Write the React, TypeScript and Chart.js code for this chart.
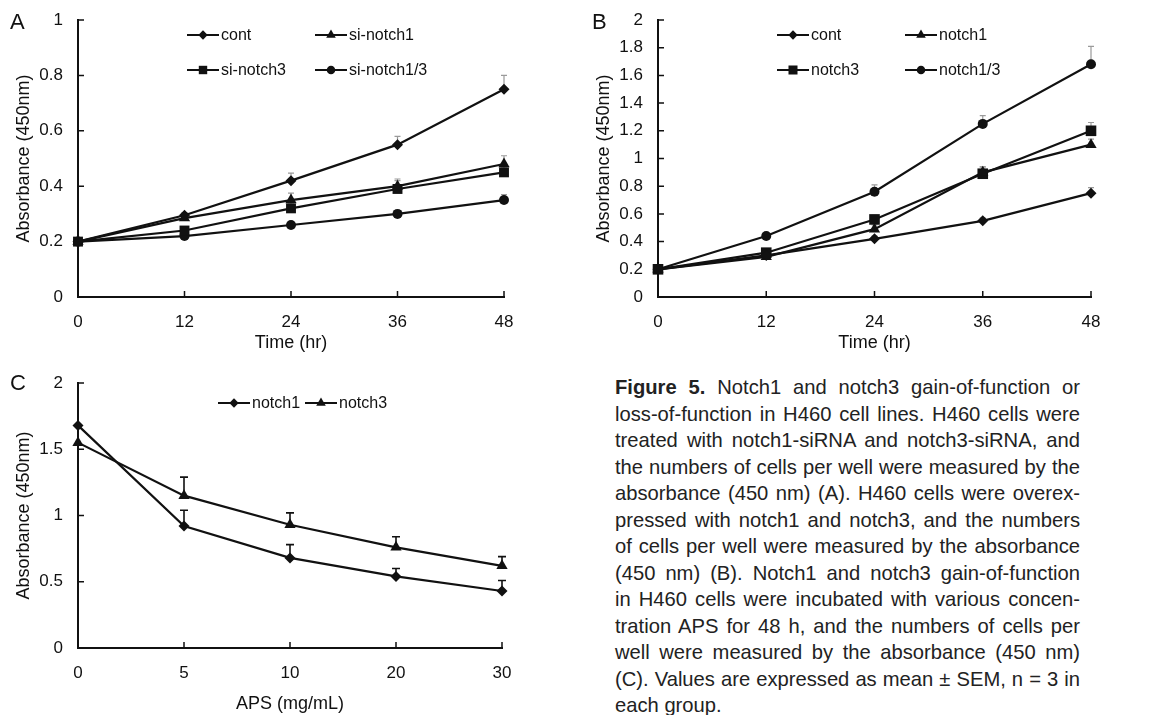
import React, { useEffect, useRef } from 'react';
import { Chart, registerables } from 'chart.js';

Chart.register(...registerables);

// ---------- data ----------
const timeHours = [0, 12, 24, 36, 48];
const yTicksA = [0, 0.2, 0.4, 0.6, 0.8, 1];
const yTicksB = [0, 0.2, 0.4, 0.6, 0.8, 1, 1.2, 1.4, 1.6, 1.8, 2];
const yTicksC = [0, 0.5, 1, 1.5, 2];
const apsDoses = ['0', '5', '10', '20', '30'];

const labelsA = ['cont', 'si-notch1', 'si-notch3', 'si-notch1/3'];
const contA = [0.2, 0.295, 0.42, 0.55, 0.75];
const siNotch1A = [0.2, 0.285, 0.35, 0.4, 0.48];
const siNotch3A = [0.2, 0.24, 0.32, 0.39, 0.45];
const siNotch13A = [0.2, 0.22, 0.26, 0.3, 0.35];
const contAErr = [0, 0.01, 0.027, 0.03, 0.05];
const siNotch1AErr = [0, 0.01, 0.025, 0.026, 0.03];
const siNotch3AErr = [0, 0.01, 0.02, 0.03, 0.02];
const siNotch13AErr = [0, 0.005, 0.01, 0.01, 0.02];

const labelsB = ['cont', 'notch1', 'notch3', 'notch1/3'];
const contB = [0.2, 0.3, 0.42, 0.55, 0.75];
const notch1B = [0.2, 0.29, 0.49, 0.9, 1.1];
const notch3B = [0.2, 0.32, 0.56, 0.89, 1.2];
const notch13B = [0.2, 0.44, 0.76, 1.25, 1.68];
const contBErr = [0, 0.01, 0.02, 0.02, 0.04];
const notch1BErr = [0, 0.01, 0.03, 0.04, 0.04];
const notch3BErr = [0, 0.01, 0.03, 0.05, 0.06];
const notch13BErr = [0, 0.01, 0.05, 0.06, 0.13];

const labelsC = ['notch1', 'notch3'];
const notch1C = [1.68, 0.92, 0.68, 0.54, 0.43];
const notch3C = [1.55, 1.15, 0.93, 0.76, 0.62];
const notch1CErr = [0, 0.12, 0.1, 0.06, 0.08];
const notch3CErr = [0, 0.14, 0.09, 0.08, 0.07];

// ---------- styling ----------
const FONT = '"Liberation Sans", Arial, Helvetica, sans-serif';
const INK = '#111111';

function drawMarker(ctx: CanvasRenderingContext2D, style: string, x: number, y: number, r: number) {
  ctx.beginPath();
  if (style === 'circle') {
    ctx.arc(x, y, r, 0, Math.PI * 2);
  } else if (style === 'rect') {
    const s = r * Math.SQRT1_2;
    ctx.rect(x - s, y - s, 2 * s, 2 * s);
  } else if (style === 'rectRot') {
    ctx.moveTo(x, y - r);
    ctx.lineTo(x + r, y);
    ctx.lineTo(x, y + r);
    ctx.lineTo(x - r, y);
    ctx.closePath();
  } else if (style === 'triangle') {
    let a = 0;
    ctx.moveTo(x + Math.sin(a) * r, y - Math.cos(a) * r);
    a += (2 * Math.PI) / 3;
    ctx.lineTo(x + Math.sin(a) * r, y - Math.cos(a) * r);
    a += (2 * Math.PI) / 3;
    ctx.lineTo(x + Math.sin(a) * r, y - Math.cos(a) * r);
    ctx.closePath();
  }
  ctx.fill();
}

const errorBarPlugin = {
  id: 'errorBars',
  beforeDatasetsDraw(chart: any, _args: any, opts: any) {
    const { ctx } = chart;
    const ys = chart.scales.y;
    chart.data.datasets.forEach((ds: any, di: number) => {
      const errs = ds.errors as number[] | undefined;
      if (!errs) return;
      const meta = chart.getDatasetMeta(di);
      ctx.save();
      ctx.strokeStyle = opts.color;
      ctx.lineWidth = opts.width;
      meta.data.forEach((pt: any, i: number) => {
        const e = errs[i];
        if (!e) return;
        const raw = ds.data[i];
        const v = typeof raw === 'number' ? raw : raw.y;
        const top = ys.getPixelForValue(v + e);
        ctx.beginPath();
        ctx.moveTo(pt.x, pt.y);
        ctx.lineTo(pt.x, top);
        ctx.moveTo(pt.x - opts.cap, top);
        ctx.lineTo(pt.x + opts.cap, top);
        ctx.stroke();
      });
      ctx.restore();
    });
  },
};

const innerTickPlugin = {
  id: 'innerTicks',
  beforeDatasetsDraw(chart: any) {
    const { ctx, chartArea } = chart;
    const xs = chart.scales.x;
    const ys = chart.scales.y;
    const len = 6;
    ctx.save();
    ctx.strokeStyle = INK;
    ctx.lineWidth = 1.5;
    ctx.beginPath();
    xs.ticks.forEach((_t: any, i: number) => {
      const px = xs.getPixelForTick(i);
      ctx.moveTo(px, chartArea.bottom);
      ctx.lineTo(px, chartArea.bottom - len);
    });
    ys.ticks.forEach((_t: any, i: number) => {
      const py = ys.getPixelForTick(i);
      ctx.moveTo(chartArea.left, py);
      ctx.lineTo(chartArea.left + len, py);
    });
    ctx.stroke();
    ctx.restore();
  },
};

const customLegendPlugin = {
  id: 'customLegend',
  afterDatasetsDraw(chart: any, _args: any, opts: any) {
    const { ctx, chartArea } = chart;
    const items = opts.items as { index: number; dx: number; dy: number }[];
    if (!items) return;
    ctx.save();
    items.forEach((it) => {
      const ds: any = chart.data.datasets[it.index];
      const x0 = chartArea.left + it.dx;
      const y0 = chartArea.top + it.dy;
      ctx.strokeStyle = INK;
      ctx.lineWidth = 2;
      ctx.beginPath();
      ctx.moveTo(x0, y0);
      ctx.lineTo(x0 + opts.lineLen, y0);
      ctx.stroke();
      ctx.fillStyle = INK;
      drawMarker(ctx, ds.pointStyle, x0 + opts.lineLen / 2, y0, ds.pointRadius * 0.85);
      ctx.font = `${opts.fontSize}px ${FONT}`;
      ctx.textBaseline = 'middle';
      ctx.textAlign = 'left';
      ctx.fillText(ds.label, x0 + opts.lineLen + 2, y0 + 1);
    });
    ctx.restore();
  },
};

type SeriesSpec = { label: string; values: number[]; errors: number[]; style: string; radius: number };

type PanelSpec = {
  width: number;
  height: number;
  padding: { left: number; top: number; right: number; bottom: number };
  yWidth: number;
  xHeight: number;
  xType: 'linear' | 'category';
  xValues: (number | string)[];
  yTicks: number[];
  xTitle: string;
  xTitlePad: number;
  xTickPad: number;
  series: SeriesSpec[];
  errColor: string;
  errWidth: number;
  errCap: number;
  legend: { index: number; dx: number; dy: number }[];
};

function buildConfig(p: PanelSpec): any {
  const datasets = p.series.map((s) => ({
    label: s.label,
    data:
      p.xType === 'linear'
        ? s.values.map((v, i) => ({ x: p.xValues[i] as number, y: v }))
        : s.values.slice(),
    errors: s.errors,
    borderColor: INK,
    backgroundColor: INK,
    borderWidth: 2.2,
    pointStyle: s.style,
    pointRadius: s.radius,
    pointBackgroundColor: INK,
    pointBorderColor: INK,
    pointBorderWidth: 0,
    tension: 0,
    clip: false,
  }));
  const yMin = p.yTicks[0];
  const yMax = p.yTicks[p.yTicks.length - 1];
  const xScale: any =
    p.xType === 'linear'
      ? {
          type: 'linear',
          min: p.xValues[0],
          max: p.xValues[p.xValues.length - 1],
          afterBuildTicks: (s: any) => {
            s.ticks = (p.xValues as number[]).map((v) => ({ value: v }));
          },
        }
      : { type: 'category', offset: false };
  Object.assign(xScale, {
    grid: { display: false, drawTicks: false },
    border: { display: true, color: INK, width: 2 },
    ticks: {
      color: INK,
      font: { family: FONT, size: 17 },
      padding: p.xTickPad,
      maxRotation: 0,
      autoSkip: false,
      callback: function (this: any, v: any, i: number) {
        return p.xType === 'linear' ? String(v) : String(p.xValues[i]);
      },
    },
    title: {
      display: true,
      text: p.xTitle,
      color: INK,
      font: { family: FONT, size: 18 },
      padding: { top: 0, bottom: p.xTitlePad },
    },
    afterFit: (s: any) => {
      s.height = p.xHeight;
      s.paddingLeft = 0;
      s.paddingRight = 0;
    },
  });
  return {
    type: 'line',
    data: { labels: p.xType === 'category' ? p.xValues : undefined, datasets },
    options: {
      animation: false,
      responsive: false,
      devicePixelRatio: 1,
      layout: { padding: p.padding },
      plugins: {
        legend: { display: false },
        tooltip: { enabled: false },
        errorBars: { color: p.errColor, width: p.errWidth, cap: p.errCap },
        customLegend: { items: p.legend, lineLen: 32, fontSize: 16 },
      },
      scales: {
        x: xScale,
        y: {
          type: 'linear',
          min: yMin,
          max: yMax,
          afterBuildTicks: (s: any) => {
            s.ticks = p.yTicks.map((v) => ({ value: v }));
          },
          grid: { display: false, drawTicks: false },
          border: { display: true, color: INK, width: 2 },
          ticks: {
            color: INK,
            font: { family: FONT, size: 17 },
            padding: 15,
            callback: (v: any) => String(Number(v)),
          },
          title: {
            display: true,
            text: 'Absorbance (450nm)',
            color: INK,
            font: { family: FONT, size: 18 },
            padding: { top: 13, bottom: 0 },
          },
          afterFit: (s: any) => {
            s.width = p.yWidth;
            s.paddingTop = 0;
            s.paddingBottom = 0;
          },
        },
      },
    },
    plugins: [errorBarPlugin, innerTickPlugin, customLegendPlugin],
  };
}

const panelA: PanelSpec = {
  width: 570,
  height: 360,
  padding: { left: 0, top: 20, right: 66, bottom: 0 },
  yWidth: 78,
  xHeight: 63,
  xType: 'linear',
  xValues: timeHours,
  yTicks: yTicksA,
  xTitle: 'Time (hr)',
  xTitlePad: 6,
  xTickPad: 15,
  errColor: '#9a9a9a',
  errWidth: 1.2,
  errCap: 3,
  series: [
    { label: labelsA[0], values: contA, errors: contAErr, style: 'rectRot', radius: 5.5 },
    { label: labelsA[1], values: siNotch1A, errors: siNotch1AErr, style: 'triangle', radius: 6.5 },
    { label: labelsA[2], values: siNotch3A, errors: siNotch3AErr, style: 'rect', radius: 7 },
    { label: labelsA[3], values: siNotch13A, errors: siNotch13AErr, style: 'circle', radius: 5 },
  ],
  legend: [
    { index: 0, dx: 109, dy: 15 },
    { index: 1, dx: 237, dy: 15 },
    { index: 2, dx: 109, dy: 50 },
    { index: 3, dx: 237, dy: 50 },
  ],
};

const panelB: PanelSpec = {
  width: 570,
  height: 360,
  padding: { left: 0, top: 20, right: 59, bottom: 0 },
  yWidth: 78,
  xHeight: 63,
  xType: 'linear',
  xValues: timeHours,
  yTicks: yTicksB,
  xTitle: 'Time (hr)',
  xTitlePad: 6,
  xTickPad: 15,
  errColor: '#9a9a9a',
  errWidth: 1.2,
  errCap: 3,
  series: [
    { label: labelsB[0], values: contB, errors: contBErr, style: 'rectRot', radius: 5.5 },
    { label: labelsB[1], values: notch1B, errors: notch1BErr, style: 'triangle', radius: 6.5 },
    { label: labelsB[2], values: notch3B, errors: notch3BErr, style: 'rect', radius: 7.5 },
    { label: labelsB[3], values: notch13B, errors: notch13BErr, style: 'circle', radius: 5 },
  ],
  legend: [
    { index: 0, dx: 119, dy: 15 },
    { index: 1, dx: 247, dy: 15 },
    { index: 2, dx: 119, dy: 50 },
    { index: 3, dx: 247, dy: 50 },
  ],
};

const panelC: PanelSpec = {
  width: 570,
  height: 355,
  padding: { left: 0, top: 23, right: 68, bottom: 0 },
  yWidth: 78,
  xHeight: 67,
  xType: 'category',
  xValues: apsDoses,
  yTicks: yTicksC,
  xTitle: 'APS (mg/mL)',
  xTitlePad: 0,
  xTickPad: 15,
  errColor: INK,
  errWidth: 1.6,
  errCap: 4,
  series: [
    { label: labelsC[0], values: notch1C, errors: notch1CErr, style: 'rectRot', radius: 5.5 },
    { label: labelsC[1], values: notch3C, errors: notch3CErr, style: 'triangle', radius: 6.5 },
  ],
  legend: [
    { index: 0, dx: 140, dy: 20 },
    { index: 1, dx: 227, dy: 20 },
  ],
};

function Panel({ spec, left, top }: { spec: PanelSpec; left: number; top: number }) {
  const ref = useRef<HTMLCanvasElement | null>(null);
  useEffect(() => {
    if (!ref.current) return;
    const chart = new Chart(ref.current, buildConfig(spec));
    return () => chart.destroy();
  }, [spec]);
  return (
    <div style={{ position: 'absolute', left, top, width: spec.width, height: spec.height }}>
      <canvas
        ref={ref}
        width={spec.width}
        height={spec.height}
        style={{ width: spec.width, height: spec.height, display: 'block' }}
      />
    </div>
  );
}

const captionLines = [
  'Notch1 and notch3 gain-of-function or',
  'loss-of-function in H460 cell lines. H460 cells were',
  'treated with notch1-siRNA and notch3-siRNA, and',
  'the numbers of cells per well were measured by the',
  'absorbance (450 nm) (A). H460 cells were overex-',
  'pressed with notch1 and notch3, and the numbers',
  'of cells per well were measured by the absorbance',
  '(450 nm) (B). Notch1 and notch3 gain-of-function',
  'in H460 cells were incubated with various concen-',
  'tration APS for 48 h, and the numbers of cells per',
  'well were measured by the absorbance (450 nm)',
  '(C). Values are expressed as mean ± SEM, n = 3 in',
  'each group.',
];

const letterStyle: React.CSSProperties = {
  position: 'absolute',
  fontFamily: FONT,
  fontSize: 22,
  lineHeight: '22px',
  color: INK,
};

export default function App() {
  return (
    <div style={{ position: 'absolute', left: 0, top: 0, width: 1151, height: 715, background: '#fff', overflow: 'hidden' }}>
      <Panel spec={panelA} left={0} top={0} />
      <Panel spec={panelB} left={580} top={0} />
      <Panel spec={panelC} left={0} top={360} />
      <div style={{ ...letterStyle, left: 10, top: 11 }}>A</div>
      <div style={{ ...letterStyle, left: 592, top: 11 }}>B</div>
      <div style={{ ...letterStyle, left: 10, top: 372 }}>C</div>
      <div
        style={{
          position: 'absolute',
          left: 615,
          top: 374,
          width: 465,
          fontFamily: FONT,
          fontSize: 20.2,
          lineHeight: '26.5px',
          color: '#222',
        }}
      >
        {captionLines.map((line, i) => {
          const last = i === captionLines.length - 1;
          return (
            <div
              key={i}
              style={{
                whiteSpace: 'nowrap',
                textAlign: last ? 'left' : 'justify',
                textAlignLast: last ? 'left' : 'justify',
              }}
            >
              {i === 0 ? (
                <>
                  <b>Figure 5.</b> {line}
                </>
              ) : (
                line
              )}
            </div>
          );
        })}
      </div>
    </div>
  );
}
